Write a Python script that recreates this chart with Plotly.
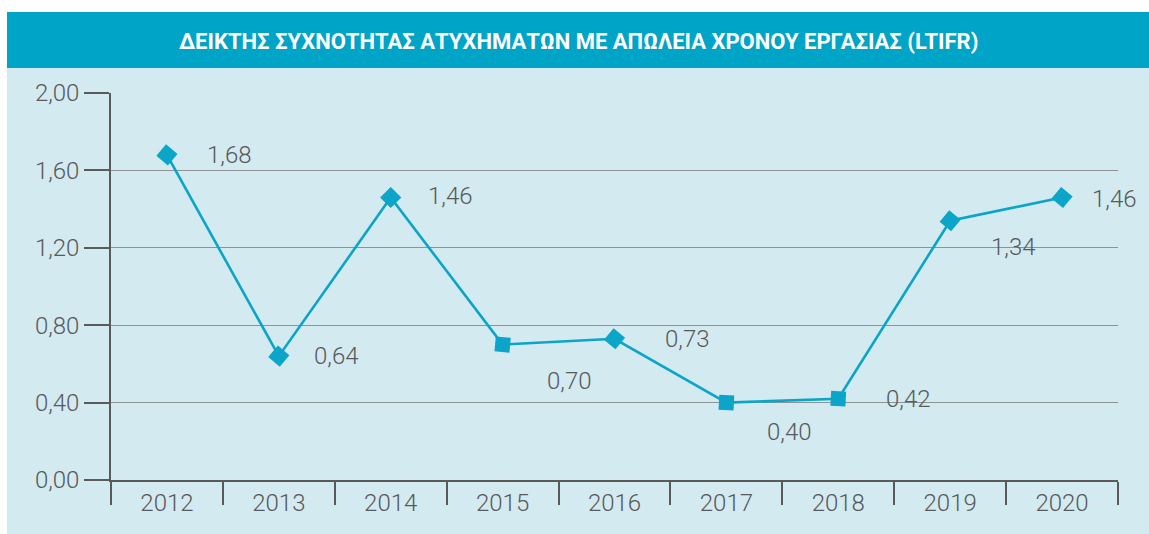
import plotly.graph_objects as go

# Δεδομένα LTIFR ανά έτος
years = ["2012", "2013", "2014", "2015", "2016", "2017", "2018", "2019", "2020"]
ltifr = [1.68, 0.64, 1.46, 0.70, 0.73, 0.40, 0.42, 1.34, 1.46]
labels = ["1,68", "0,64", "1,46", "0,70", "0,73", "0,40", "0,42", "1,34", "1,46"]

# μετατόπιση ετικετών (px) και γωνία δεικτών
lbl_dx = [63, 58, 60, 67, 73, 63, 70, 63, 52]
lbl_dy = [0, 0, 1, -36, 0, -29, 0, -26, -2]
mk_angle = [40, 40, 45, 5, 40, 3, 3, 40, 40]

TITLE = "ΔΕΙΚΤΗΣ ΣΥΧΝΟΤΗΤΑΣ ΑΤΥΧΗΜΑΤΩΝ ΜΕ ΑΠΩΛΕΙΑ ΧΡΟΝΟΥ ΕΡΓΑΣΙΑΣ (LTIFR)"

TEAL   = "#00a4c7"
PANEL  = "#d3eaf0"
LINE   = "#0aa5c8"
TXT    = "#58595b"
AXIS   = "#5a5a5a"
GRID   = "#8e9496"
FONT   = "Roboto, sans-serif"

W, H = 1149, 534
L, R, T, B = 111, 31, 93, 54
pw, ph = W - L - R, H - T - B


def px(x):  # pixel → paper x
    return (x - L) / pw


def py(y):  # pixel → paper y
    return (H - B - y) / ph


fig = go.Figure()
fig.add_trace(go.Scatter(
    x=years, y=ltifr, mode="lines+markers",
    line=dict(color=LINE, width=2.6),
    marker=dict(symbol="square", size=15, color=LINE, angle=mk_angle,
                line=dict(width=0)),
    hoverinfo="skip", showlegend=False,
))

# panel φόντου και ζώνη τίτλου
fig.add_shape(type="rect", xref="paper", yref="paper", layer="below",
              x0=px(7), x1=px(W + 5), y0=py(H + 5), y1=py(12),
              fillcolor=PANEL, line_width=0)
fig.add_shape(type="rect", xref="paper", yref="paper", layer="below",
              x0=px(7), x1=px(W + 5), y0=py(68), y1=py(12),
              fillcolor=TEAL, line_width=0)

annots = [dict(text=f"<b>{TITLE}</b>", xref="paper", yref="paper",
               x=px(578), y=py(42), xanchor="center", yanchor="middle",
               showarrow=False,
               font=dict(size=22, color="#ffffff", family=FONT))]
for i, (v, t, dx, dy) in enumerate(zip(ltifr, labels, lbl_dx, lbl_dy)):
    annots.append(dict(x=i, y=v, xref="x", yref="y", text=t,
                       showarrow=False, xshift=dx, yshift=dy,
                       font=dict(size=24, color=TXT, family=FONT,
                                 weight=300)))

fig.update_xaxes(
    type="category", range=[-0.5, 8.5], tickson="boundaries",
    ticks="outside", ticklen=23, tickwidth=1.5, tickcolor=AXIS,
    showline=True, linecolor=AXIS, linewidth=1.5,
    showgrid=False, zeroline=False,
    tickfont=dict(size=24, color=TXT, family=FONT, weight=300),
)
fig.update_yaxes(
    range=[0, 2], dtick=0.4, tickformat=".2f",
    ticks="outside", ticklen=25, tickwidth=1.5, tickcolor=AXIS,
    showline=True, linecolor=AXIS, linewidth=1.5,
    showgrid=True, gridcolor=GRID, gridwidth=1, zeroline=False,
    tickfont=dict(size=24, color=TXT, family=FONT, weight=300),
)
fig.update_layout(
    width=W, height=H, separators=",.",
    margin=dict(l=L, r=R, t=T, b=B, autoexpand=False),
    paper_bgcolor="#ffffff", plot_bgcolor="rgba(0,0,0,0)",
    font=dict(family=FONT, color=TXT),
    annotations=annots,
)

fig.write_html("out.html", config={"displayModeBar": False},
               post_script="document.body.style.margin='0';")
